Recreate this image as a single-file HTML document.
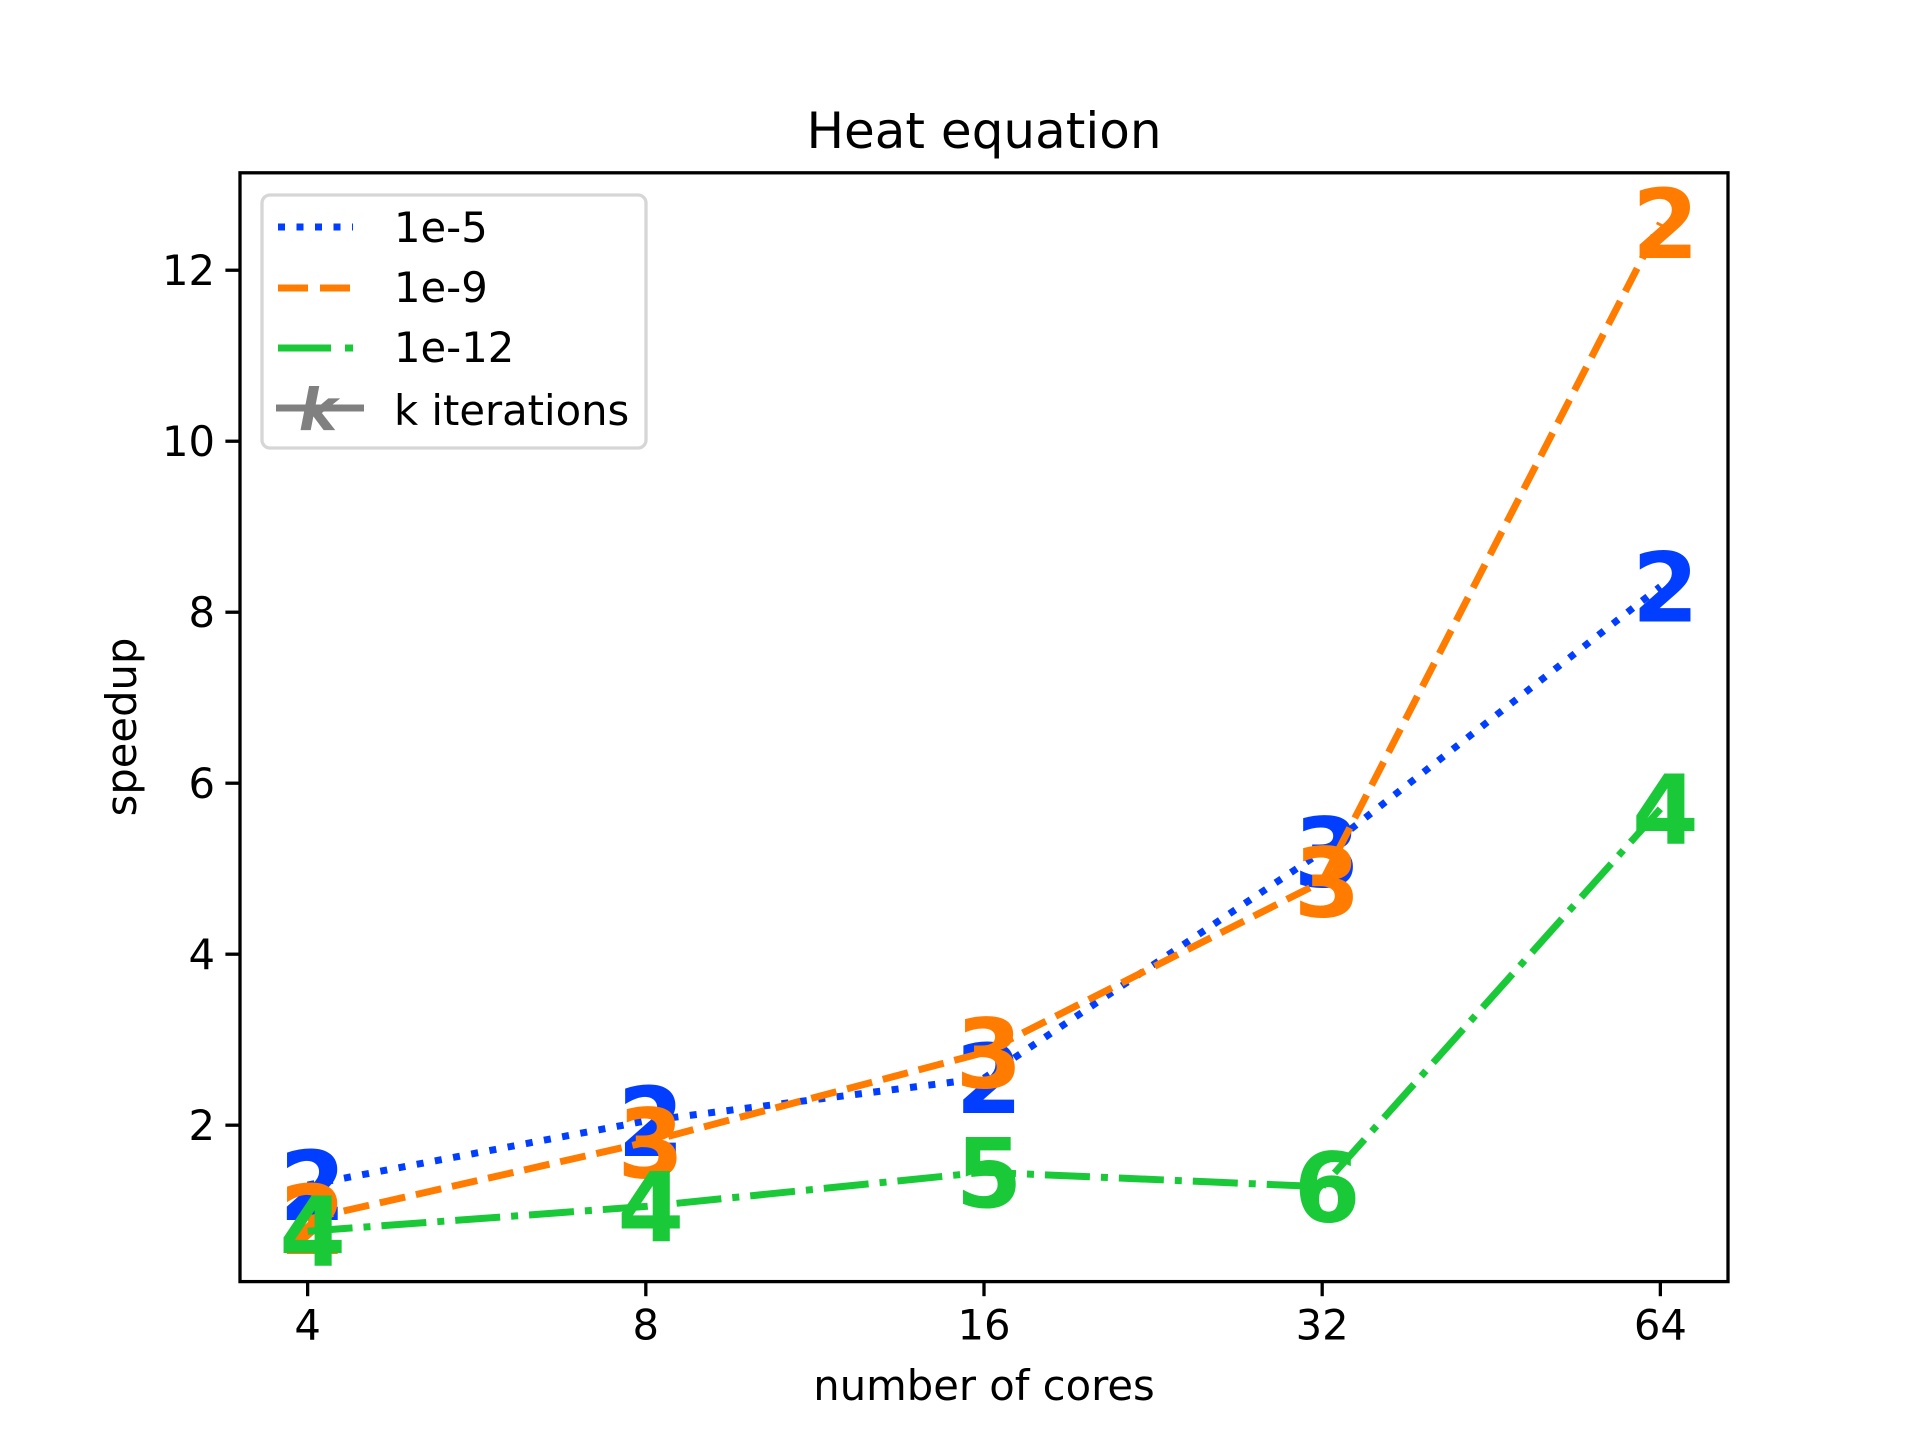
<!DOCTYPE html>
<html><head><meta charset="utf-8"><style>body{margin:0;background:#fff}svg{display:block}text{font-family:"DejaVu Sans","Liberation Sans",sans-serif}</style></head>
<body>
<svg id="chart" width="1920" height="1440" viewBox="0 0 1920 1440">
<rect x="0" y="0" width="1920" height="1440" fill="#fff"/>
<text x="984" y="148" font-size="50" text-anchor="middle">Heat equation</text>
<g id="plot"></g>
<rect x="240" y="172.8" width="1488" height="1108.8" fill="none" stroke="#000" stroke-width="3.3"/>
<g id="axes"></g>
<text x="984" y="1400" font-size="41.7" text-anchor="middle">number of cores</text>
<text transform="translate(136,727) rotate(-90)" font-size="41.7" text-anchor="middle">speedup</text>
<g>
<rect x="262" y="195" width="384" height="253" rx="8" fill="#fff" fill-opacity="0.8" stroke="#d6d6d6" stroke-width="3.3"/>
<line x1="278" y1="227" x2="353" y2="227" stroke="#023eff" stroke-width="7" stroke-dasharray="7,11.5"/>
<text x="394" y="242" font-size="41.7">1e-5</text>
<line x1="278" y1="288" x2="353" y2="288" stroke="#ff7c00" stroke-width="7" stroke-dasharray="30,12"/>
<text x="394" y="302" font-size="41.7">1e-9</text>
<line x1="278" y1="348" x2="353" y2="348" stroke="#1ac938" stroke-width="7" stroke-dasharray="53,14,8,100"/>
<text x="394" y="362" font-size="41.7">1e-12</text>
<line x1="276" y1="408" x2="364" y2="408" stroke="#808080" stroke-width="7"/>
<text x="318" y="430" font-size="58" font-weight="bold" font-style="italic" fill="#808080" text-anchor="middle">k</text>
<text x="394" y="425" font-size="41.7">k iterations</text>
</g>
</svg>
<script>
const cores = [4, 8, 16, 32, 64];
const xTicks = ["4", "8", "16", "32", "64"];
const yTicks = [2, 4, 6, 8, 10, 12];
const speedup1e5 = [1.3, 2.05, 2.55, 5.2, 8.3];
const speedup1e9 = [0.9, 1.8, 2.85, 4.85, 12.55];
const speedup1e12 = [0.76, 1.05, 1.45, 1.28, 5.7];
const iters1e5 = ["2", "2", "2", "3", "2"];
const iters1e9 = ["2", "3", "3", "3", "2"];
const iters1e12 = ["4", "4", "5", "6", "4"];

const NS = "http://www.w3.org/2000/svg";
const L = 240, R = 1728, T = 172.8, B = 1281.6;
const lmin = 2 - 0.2, lmax = 6 + 0.2;
function xs(v) { return L + (Math.log2(v) - lmin) / (lmax - lmin) * (R - L); }
const all = speedup1e5.concat(speedup1e9, speedup1e12);
const dmin = Math.min(...all), dmax = Math.max(...all), dr = dmax - dmin;
const ymin = dmin - 0.05 * dr, ymax = dmax + 0.05 * dr;
function ys(v) { return B - (v - ymin) / (ymax - ymin) * (B - T); }
function mk(tag, attrs, parent) {
  const e = document.createElementNS(NS, tag);
  for (const k in attrs) e.setAttribute(k, attrs[k]);
  parent.appendChild(e); return e;
}
const axes = document.getElementById('axes');
cores.forEach((c, i) => {
  const x = xs(c);
  const t = mk('line', {x1: x, x2: x, y1: B, y2: B + 14.6, stroke: '#000', 'stroke-width': 3.3}, axes);
  
  
  const l = mk('text', {x: x, y: B + 58, 'font-size': 41.7, 'text-anchor': 'middle'}, axes);
  l.textContent = xTicks[i];
  
  
});
yTicks.forEach(v => {
  const y = ys(v);
  const t = mk('line', {x1: L - 14.6, x2: L, y1: y, y2: y, stroke: '#000', 'stroke-width': 3.3}, axes);
  
  
  const l = mk('text', {x: L - 25, y: y + 15, 'font-size': 41.7, 'text-anchor': 'end'}, axes);
  l.textContent = String(v);
  
  
});
const plot = document.getElementById('plot');
function series(vals, labels, color, dash, name) {
  const pts = vals.map((v, i) => xs(cores[i]) + ',' + ys(v)).join(' ');
  const p = mk('polyline', {points: pts, fill: 'none', stroke: color, 'stroke-width': 7, 'stroke-dasharray': dash}, plot);
  
  
  vals.forEach((v, i) => {
    const t = mk('text', {x: xs(cores[i]) + 5, y: ys(v) + 35, 'font-size': 96, 'font-weight': 'bold', fill: color, 'text-anchor': 'middle'}, plot);
    t.textContent = labels[i];
    
    
  });
}
series(speedup1e5, iters1e5, '#023eff', '7,11.5', '1e-5');
series(speedup1e9, iters1e9, '#ff7c00', '26,11', '1e-9');
series(speedup1e12, iters1e12, '#1ac938', '45,11,7,11', '1e-12');
</script>
</body></html>
